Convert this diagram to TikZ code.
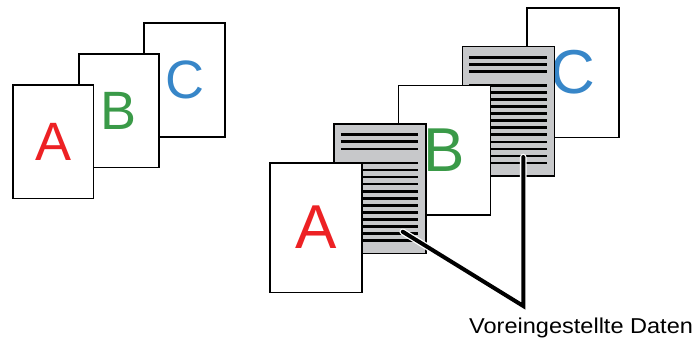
\documentclass[tikz,border=0pt]{standalone}
\usepackage{fontspec}
\setmainfont{Liberation Sans}
\usepackage{graphicx}
\definecolor{lred}{RGB}{237,33,36}
\definecolor{lgreen}{RGB}{58,154,72}
\definecolor{lblue}{RGB}{55,134,200}
\definecolor{pgray}{RGB}{199,200,202}
\begin{document}
\begin{tikzpicture}[x=1pt,y=-1pt,
  page/.style={draw=black,line width=1.8pt,fill=white,anchor=north west,inner sep=0pt},
  smallpage/.style={page,minimum width=80.5pt,minimum height=113.5pt,font=\fontsize{54}{54}\selectfont},
  bigpage/.style={page,minimum width=92pt,minimum height=129.5pt,font=\fontsize{62}{62}\selectfont},
  datapage/.style={draw=black,line width=1.4pt,fill=pgray,anchor=north west,minimum width=92pt,minimum height=129.5pt,inner sep=0pt},
  dataline/.style={line width=2.7pt,black},
  leader/.style={line width=4pt,black,line cap=round,line join=miter},
  halo/.style={line width=6.6pt,white,line cap=round,line join=miter},
  caption/.style={anchor=base west,inner sep=0pt,font=\fontsize{21.5}{24}\selectfont}]
\useasboundingbox (0,0) rectangle (697,340);
\fill[white] (0,0) rectangle (697,340);
% left group
\node[smallpage,text=lblue]  (lc) at (143.4,22.3) {C};
\node[smallpage,text=lgreen] (lb) at (77.7,53.15) {B};
\node[smallpage,text=lred]   (la) at (12,84) {A};
% right group
\node[bigpage,text=lblue]  (rc) at (526,7) {C};
\node[datapage] (g2) at (461.75,45.75) {};
\foreach \k in {0,1,2,4,5,6,7,8,9,10,11,12,13,14,15}
  \draw[dataline] ([shift={(7.5,11.5+7.05*\k)}]g2.north west) -- ++(77.5,0);
\node[bigpage,text=lgreen] (rb) at (397.5,84.5) {B};
\node[datapage] (g1) at (333.25,123.25) {};
\foreach \k in {0,1,2,4,5,6,7,8,9,10,11,12,13,14,15}
  \draw[dataline] ([shift={(7.5,11.5+7.05*\k)}]g1.north west) -- ++(77.5,0);
\node[bigpage,text=lred] (ra) at (269,162) {A};
% leader
\coordinate (d1) at ([shift={(69.5,108.5)}]g1.north west);
\coordinate (d2) at ([shift={(61.5,111.25)}]g2.north west);
\node[caption] (lbl) at (469,333) {\scalebox{1.095}[1]{Voreingestellte Daten}};
\coordinate (bend) at (523.3,306);
\draw[halo] (d1) -- (bend) -- (d2);
\draw[leader] (d1) -- (bend) -- (d2);
\end{tikzpicture}
\end{document}
